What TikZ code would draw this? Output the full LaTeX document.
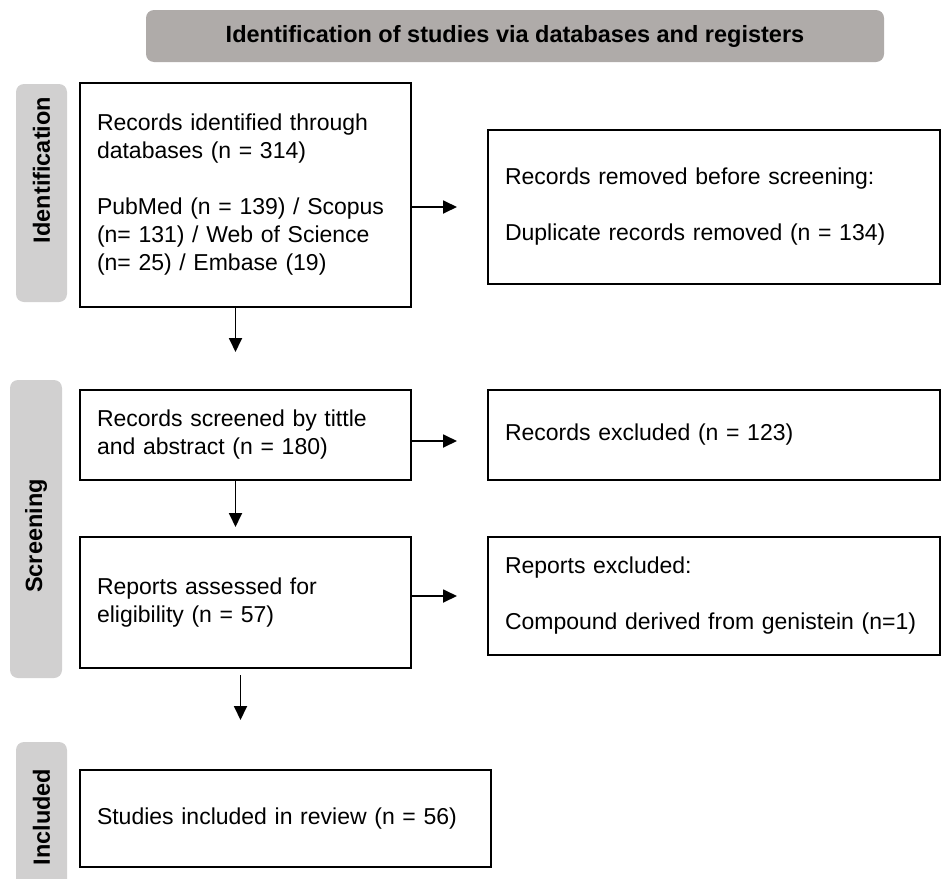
\documentclass[tikz,border=0pt]{standalone}
\usepackage{fontspec}
\setmainfont{Liberation Sans}
\usepackage{xcolor}
\usetikzlibrary{arrows.meta}

\definecolor{headgray}{HTML}{AFABA9}
\definecolor{tabgray}{HTML}{D1D0D0}

\tikzset{
  box/.style={draw, line width=2pt, anchor=north west, align=left, inner xsep=17pt,
    font=\fontsize{23}{28}\selectfont},
  tab/.style={fill=tabgray, rounded corners=8pt, rotate=90, minimum height=51pt},
  tablabel/.style={rotate=90, font=\fontsize{23.5}{28}\selectfont\bfseries},
  arr/.style={line width=1.8pt, -{Triangle[length=14pt,width=13pt]}}
}

\begin{document}
\begin{tikzpicture}[x=1pt,y=-1pt]
\useasboundingbox (0,0) rectangle (942,878);
\clip (0,0) rectangle (942,878);

\node[fill=headgray, rounded corners=8pt, minimum width=738pt, minimum height=52pt,
  font=\fontsize{23.5}{28}\selectfont\bfseries] (title) at (515,36)
  {Identification of studies via databases and registers};

% phase tabs
\node[tab, minimum width=218pt] (tabid) at (41.5,193) {};
\node[tablabel] (tabidtext) at (41.5,170) {Identification};
\node[tab, minimum width=298pt, minimum height=52pt] (tabscr) at (36,529) {};
\node[tablabel] (tabscrtext) at (36,536) {Screening};
\node[tab, minimum width=150pt] (tabinc) at (41.5,817) {};
\node[tablabel] (tabinctext) at (41.5,817) {Included};

% left column
\node[box, text width=297pt, minimum height=224pt] (ident) at (79,82)
  {Records identified through\\ databases (n = 314)\\[28pt]
   PubMed (n = 139) / Scopus\\ (n= 131) / Web of Science\\ (n= 25) / Embase (19)};
\node[box, text width=297pt, minimum height=90pt] (screened) at (79,389)
  {Records screened by tittle\\ and abstract (n = 180)};
\node[box, text width=297pt, minimum height=131pt] (assessed) at (79,536)
  {Reports assessed for\\ eligibility (n = 57)};
\node[box, text width=377pt, minimum height=97pt] (included) at (79,769)
  {Studies included in review (n = 56)};

% right column
\node[box, text width=418pt, minimum height=154pt] (removed) at (487,129)
  {Records removed before screening:\\[28pt] Duplicate records removed (n = 134)};
\node[box, text width=418pt, minimum height=90pt] (excluded) at (487,389)
  {Records excluded (n = 123)};
\node[box, text width=418pt, minimum height=118pt] (repexcl) at (487,536)
  {Reports excluded:\\[28pt] Compound derived from genistein (n=1)};

\draw[arr, shorten >=30pt] (ident.east |- removed.west) -- (removed.west);
\draw[arr, shorten >=30pt] ([yshift=-6pt]screened.east) -- ([yshift=-6pt]excluded.west);
\draw[arr, shorten >=30pt] (assessed.east |- repexcl.west) -- (repexcl.west);

\draw[arr, shorten >=37pt] ([xshift=-10pt]ident.south) -- ([xshift=-10pt]ident.south |- screened.north);
\draw[arr, shorten >=9pt] ([xshift=-10pt]screened.south) -- ([xshift=-10pt]screened.south |- assessed.north);
\draw[arr, shorten <=6pt, shorten >=49pt] ([xshift=-5pt]assessed.south) -- ([xshift=-5pt]assessed.south |- included.north);

\end{tikzpicture}
\end{document}
